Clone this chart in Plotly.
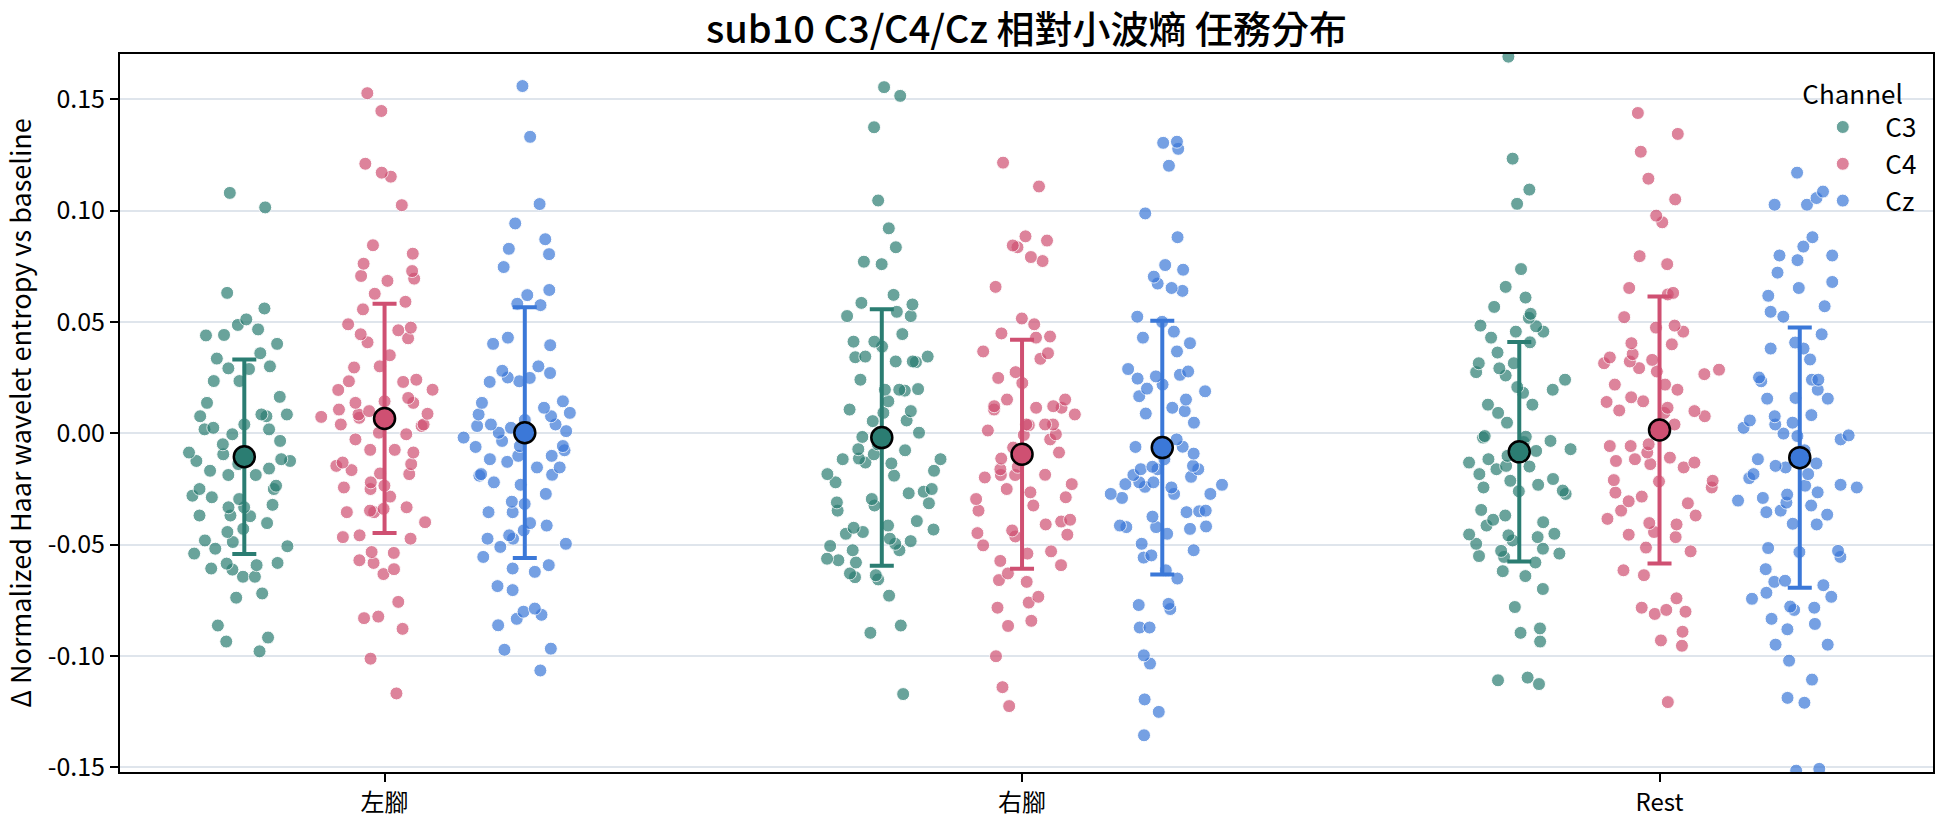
import plotly.graph_objects as go

# ---------------- data ----------------
categories = ["左腳", "右腳", "Rest"]
channels = ["C3", "C4", "Cz"]

left_c3 = [0.108, 0.1015, 0.0631, 0.0561, 0.0512, 0.0467, 0.0487, 0.0442, 0.044, 0.0402, 0.036, 0.0336,
           0.0292, 0.0301, 0.0289, 0.0235, 0.0235, 0.0164, 0.0137, 0.0077, 0.0077, 0.0085, 0.0085, 0.004,
           0.0018, -0.0004, 0.0018, 0.0025, -0.0034, -0.0049, -0.0094, -0.0086, -0.0116, -0.0124, -0.0101,
           -0.0124, -0.0138, -0.0158, -0.0168, -0.0187, -0.0187, -0.0235, -0.025, -0.025, -0.028, -0.0295,
           -0.0287, -0.0321, -0.0332, -0.0332, -0.0369, -0.0372, -0.0369, -0.0403, -0.0429, -0.0443, -0.0481,
           -0.0488, -0.0507, -0.0518, -0.054, -0.0582, -0.0612, -0.0592, -0.0585, -0.0644, -0.0644, -0.0607,
           -0.0719, -0.0738, -0.0863, -0.0917, -0.0935, -0.0979]
left_c4 = [0.1528, 0.1448, 0.1211, 0.1171, 0.1153, 0.1025, 0.0845, 0.0807, 0.0762, 0.0729, 0.0707, 0.0695,
           0.0685, 0.0627, 0.0591, 0.0557, 0.049, 0.0475, 0.0463, 0.0445, 0.0409, 0.0427, 0.0351, 0.0301,
           0.0296, 0.0241, 0.0231, 0.0234, 0.0196, 0.0195, 0.0159, 0.0137, 0.0144, 0.0137, 0.0107, 0.0085,
           0.0088, 0.0074, 0.0033, 0.004, 0.004, -0.0004, 0.0003, -0.0027, -0.0074, -0.0074, -0.0086, -0.0138,
           -0.0131, -0.0146, -0.0165, -0.018, -0.0183, -0.022, -0.0235, -0.0243, -0.025, -0.0284, -0.0339,
           -0.0354, -0.0332, -0.0354, -0.0347, -0.0399, -0.0473, -0.0466, -0.0458, -0.0537, -0.0533, -0.0582,
           -0.057, -0.061, -0.0632, -0.0757, -0.083, -0.0823, -0.0878, -0.1012, -0.1168, 0.007, 0.0055, 0.01]
left_cz = [0.156, 0.1332, 0.103, 0.0943, 0.0872, 0.0829, 0.0805, 0.0747, 0.0644, 0.0621, 0.0576, 0.0582,
           0.043, 0.0396, 0.0402, 0.0301, 0.0281, 0.0271, 0.0249, 0.0251, 0.0231, 0.0234, 0.0144, 0.0137,
           0.0115, 0.0077, 0.006, 0.0085, 0.004, 0.0092, 0.0033, 0.001, 0.0003, 0.004, -0.0076, -0.0057,
           -0.0061, -0.0057, -0.0101, -0.0101, -0.0116, -0.0128, -0.0153, -0.0186, -0.0183, -0.022, -0.019,
           -0.0231, -0.0272, -0.0307, -0.0317, -0.0354, -0.0354, -0.0414, -0.0403, -0.0436, -0.0473, -0.0473,
           -0.0458, -0.051, -0.0496, -0.0555, -0.0607, -0.0592, -0.0622, -0.0704, -0.0686, -0.0787, -0.0801,
           -0.0815, -0.0833, -0.0862, -0.0967, -0.0972, -0.1065, 0.0025, -0.0019, -0.0034, -0.0153]

right_c3 = [0.1555, 0.1516, 0.1375, 0.1046, 0.0921, 0.0836, 0.0771, 0.076, 0.0622, 0.0586, 0.0579, 0.0527,
            0.0546, 0.0527, 0.0446, 0.0412, 0.0412, 0.039, 0.0342, 0.0345, 0.0323, 0.0323, 0.032, 0.0345,
            0.0241, 0.0199, 0.0196, 0.0192, 0.0196, 0.0144, 0.01, 0.0107, 0.0092, 0.0058, 0.0055, 0.0003,
            -0.0016, -0.0049, -0.0076, -0.0071, -0.0094, -0.0116, -0.0113, -0.0116, -0.0131, -0.0135, -0.0168,
            -0.019, -0.0183, -0.022, -0.025, -0.0262, -0.0269, -0.0314, -0.0295, -0.0324, -0.031, -0.0347,
            -0.0394, -0.0432, -0.0414, -0.0424, -0.0443, -0.0451, -0.0484, -0.0473, -0.0496, -0.0506, -0.0525,
            -0.0525, -0.0563, -0.057, -0.058, -0.0629, -0.0637, -0.0646, -0.0656, -0.0729, -0.0863, -0.0896,
            -0.1171]
right_c4 = [0.1216, 0.1109, 0.0885, 0.0866, 0.0844, 0.0836, 0.0792, 0.0774, 0.0658, 0.0516, 0.049, 0.0449,
            0.0435, 0.043, 0.0368, 0.036, 0.0335, 0.0275, 0.0249, 0.0226, 0.0152, 0.0115, 0.0107, 0.0122,
            0.0152, 0.0122, 0.0115, 0.0085, 0.004, 0.004, 0.004, 0.0037, 0.0013, -0.0027, -0.0004, -0.0007,
            -0.0064, -0.0113, -0.0086, -0.015, -0.0161, -0.0187, -0.0198, -0.0187, -0.0186, -0.0228, -0.025,
            -0.0265, -0.0295, -0.0287, -0.0324, -0.0347, -0.0388, -0.0396, -0.0409, -0.0448, -0.0436, -0.0455,
            -0.0463, -0.0503, -0.053, -0.054, -0.0592, -0.0629, -0.0573, -0.0659, -0.0667, -0.0734, -0.076,
            -0.0783, -0.0842, -0.0865, -0.1001, -0.114, -0.1225]
right_cz = [0.1305, 0.131, 0.1278, 0.1202, 0.0988, 0.0881, 0.0756, 0.0735, 0.0704, 0.0673, 0.0653, 0.064,
            0.0524, 0.0501, 0.0457, 0.0405, 0.043, 0.0368, 0.0289, 0.0278, 0.0263, 0.0246, 0.0256, 0.0201,
            0.0219, 0.0189, 0.0167, 0.0152, 0.0089, 0.0048, 0.01, 0.0115, -0.006, -0.006, -0.0058, -0.0027,
            -0.0061, -0.0091, -0.0116, -0.015, -0.0161, -0.0187, -0.0146, -0.0161, -0.0161, -0.0195, -0.022,
            -0.024, -0.0228, -0.022, -0.0231, -0.0243, -0.0272, -0.0272, -0.0272, -0.029, -0.0347, -0.035,
            -0.0374, -0.0354, -0.0414, -0.0421, -0.0418, -0.0421, -0.0429, -0.0451, -0.0496, -0.0525, -0.0548,
            -0.0558, -0.0615, -0.0652, -0.0771, -0.0766, -0.0789, -0.0872, -0.0872, -0.0997, -0.1034, -0.1195,
            -0.1251, -0.1356]

rest_c3 = [0.1692, 0.1234, 0.1095, 0.1031, 0.0738, 0.0658, 0.061, 0.0568, 0.0537, 0.0519, 0.0484, 0.0481,
           0.0457, 0.0457, 0.043, 0.0409, 0.0363, 0.0315, 0.0315, 0.0292, 0.0275, 0.026, 0.0241, 0.0208,
           0.0182, 0.0196, 0.0129, 0.0129, 0.0092, 0.0048, -0.0012, -0.0034, -0.0019, -0.0039, -0.0015,
           -0.0071, -0.0079, -0.0101, -0.0116, -0.0131, -0.0146, -0.0149, -0.0161, -0.0183, -0.0213, -0.0205,
           -0.0231, -0.026, -0.0272, -0.0257, -0.0243, -0.0344, -0.0369, -0.0388, -0.0399, -0.0414, -0.0458,
           -0.0454, -0.0466, -0.0451, -0.0496, -0.0481, -0.0518, -0.054, -0.0551, -0.0555, -0.0528, -0.058,
           -0.0619, -0.0641, -0.0699, -0.078, -0.0876, -0.0896, -0.0935, -0.1109, -0.1097, -0.1126]
rest_c4 = [0.1439, 0.1345, 0.1265, 0.1144, 0.1051, 0.0978, 0.0948, 0.0796, 0.076, 0.0653, 0.0624, 0.0631,
           0.0522, 0.0484, 0.0457, 0.0475, 0.0405, 0.04, 0.0356, 0.0341, 0.033, 0.0315, 0.0323, 0.0293,
           0.0286, 0.0266, 0.0278, 0.0219, 0.0219, 0.0196, 0.0162, 0.0092, 0.01, 0.0115, 0.0144, 0.0141,
           0.0103, 0.0077, 0.004, -0.0057, -0.0057, -0.0049, -0.0086, -0.0109, -0.0124, -0.0116, -0.0131,
           -0.0138, -0.0153, -0.021, -0.0216, -0.0213, -0.0243, -0.0266, -0.0284, -0.0305, -0.0314, -0.0347,
           -0.0369, -0.0384, -0.0409, -0.0403, -0.0443, -0.0455, -0.0466, -0.0513, -0.053, -0.0615, -0.0637,
           -0.0741, -0.0783, -0.0793, -0.0801, -0.0811, -0.0891, -0.093, -0.0954, -0.1207]
rest_cz = [0.1171, 0.1086, 0.1057, 0.1027, 0.1027, 0.0881, 0.0839, 0.0778, 0.0799, 0.0799, 0.0722, 0.068,
           0.0618, 0.0653, 0.0571, 0.0546, 0.0524, 0.0445, 0.0408, 0.0381, 0.0381, 0.0332, 0.0251, 0.0241,
           0.0241, 0.0234, 0.0196, 0.0156, 0.0159, 0.0156, 0.0082, 0.0025, 0.004, 0.0077, 0.0048, 0.0058,
           -0.0012, -0.0001, -0.0027, -0.0009, -0.0076, -0.0116, -0.0146, -0.0135, -0.0183, -0.0183, -0.0153,
           -0.0201, -0.0243, -0.0231, -0.0235, -0.0265, -0.0275, -0.0302, -0.029, -0.0311, -0.0324, -0.0347,
           -0.0354, -0.0365, -0.0409, -0.0406, -0.0515, -0.0528, -0.0533, -0.0555, -0.061, -0.0667, -0.0662,
           -0.0682, -0.0716, -0.0734, -0.0743, -0.0783, -0.0778, -0.0793, -0.0833, -0.0856, -0.088, -0.0949,
           -0.0949, -0.1021, -0.1106, -0.1188, -0.121, -0.1507, -0.1515]

# mean and standard deviation per task (order = categories)
mean_c3 = [-0.0105, -0.0019, -0.0083]
sd_c3 = [0.0437, 0.0576, 0.0493]
mean_c4 = [0.0067, -0.0094, 0.0015]
sd_c4 = [0.0515, 0.0514, 0.0600]
mean_cz = [0.0003, -0.0064, -0.0109]
sd_cz = [0.0563, 0.0570, 0.0584]

y_tick_vals = [-0.15, -0.10, -0.05, 0.00, 0.05, 0.10, 0.15]
y_tick_text = ["-0.15", "-0.10", "-0.05", "0.00", "0.05", "0.10", "0.15"]

title_text = "sub10 C3/C4/Cz 相對小波熵 任務分布"
y_title = "Δ Normalized Haar wavelet entropy vs baseline"
legend_title = "Channel"

# ---------------- figure ----------------
FONT = "Noto Sans CJK TC"
colors = {"C3": "#2b7d72", "C4": "#cf5072", "Cz": "#3b78d8"}
samples = {
    "C3": [left_c3, right_c3, rest_c3],
    "C4": [left_c4, right_c4, rest_c4],
    "Cz": [left_cz, right_cz, rest_cz],
}
summary = {
    "C3": (mean_c3, sd_c3),
    "C4": (mean_c4, sd_c4),
    "Cz": (mean_cz, sd_cz),
}

fig = go.Figure()

for ch in channels:
    xs, ys = [], []
    for cat, vals in zip(categories, samples[ch]):
        xs += [cat] * len(vals)
        ys += vals
    fig.add_trace(go.Box(
        x=xs, y=ys, name=ch, offsetgroup=ch, legendgroup=ch, showlegend=False,
        boxpoints="all", jitter=0.95, pointpos=0,
        fillcolor="rgba(0,0,0,0)", line=dict(width=0, color="rgba(0,0,0,0)"),
        whiskerwidth=0,
        marker=dict(color=colors[ch], size=13, opacity=0.7,
                    line=dict(color="white", width=1)),
        hoverinfo="y",
    ))

for ch in channels:
    m, s = summary[ch]
    fig.add_trace(go.Scatter(
        x=categories, y=m, mode="markers", name=ch, offsetgroup=ch, legendgroup=ch,
        showlegend=False, cliponaxis=False,
        marker=dict(color=colors[ch], size=21, line=dict(color="black", width=2.5)),
        error_y=dict(type="data", array=s, visible=True, color=colors[ch],
                     thickness=4, width=12),
    ))

for ch in channels:
    fig.add_trace(go.Scatter(
        x=[None], y=[None], mode="markers", name=ch, offsetgroup=ch, legendgroup=ch,
        showlegend=True,
        marker=dict(color=colors[ch], size=13, opacity=0.7, line=dict(color="white", width=1)),
    ))

fig.update_layout(
    width=1944, height=827,
    margin=dict(l=120, r=9, t=54, b=51),
    paper_bgcolor="white", plot_bgcolor="white",
    font=dict(family=FONT, size=24, color="black"),
    title=dict(text=title_text, x=0.5, xref="paper", xanchor="center",
               y=1 - 30 / 827, yref="container", yanchor="middle",
               font=dict(family=FONT, size=38, color="black", weight=500)),
    boxmode="group", boxgap=0.34, boxgroupgap=0,
    scattermode="group", scattergap=0.34,
    showlegend=True,
    legend=dict(title=dict(text=legend_title, font=dict(size=26)),
                x=0.9268, xanchor="left", y=0.978, yanchor="top",
                bgcolor="rgba(0,0,0,0)", borderwidth=0,
                font=dict(size=26), itemwidth=75, tracegroupgap=0),
    xaxis=dict(type="category", categoryorder="array", categoryarray=categories,
               range=[-0.415, 2.429], showgrid=False, zeroline=False,
               showline=True, linecolor="black", linewidth=2, mirror=True,
               ticks="outside", ticklen=8, tickwidth=2, tickcolor="black",
               tickfont=dict(size=24)),
    yaxis=dict(range=[-0.1521, 0.1704], tickvals=y_tick_vals, ticktext=y_tick_text,
               showgrid=True, gridcolor="#dfe5ec", gridwidth=2, zeroline=False,
               showline=True, linecolor="black", linewidth=2, mirror=True,
               ticks="outside", ticklen=8, tickwidth=2, tickcolor="black",
               tickfont=dict(size=25),
               title=dict(text=y_title, font=dict(size=27), standoff=10)),
)

fig.write_html("out.html")
